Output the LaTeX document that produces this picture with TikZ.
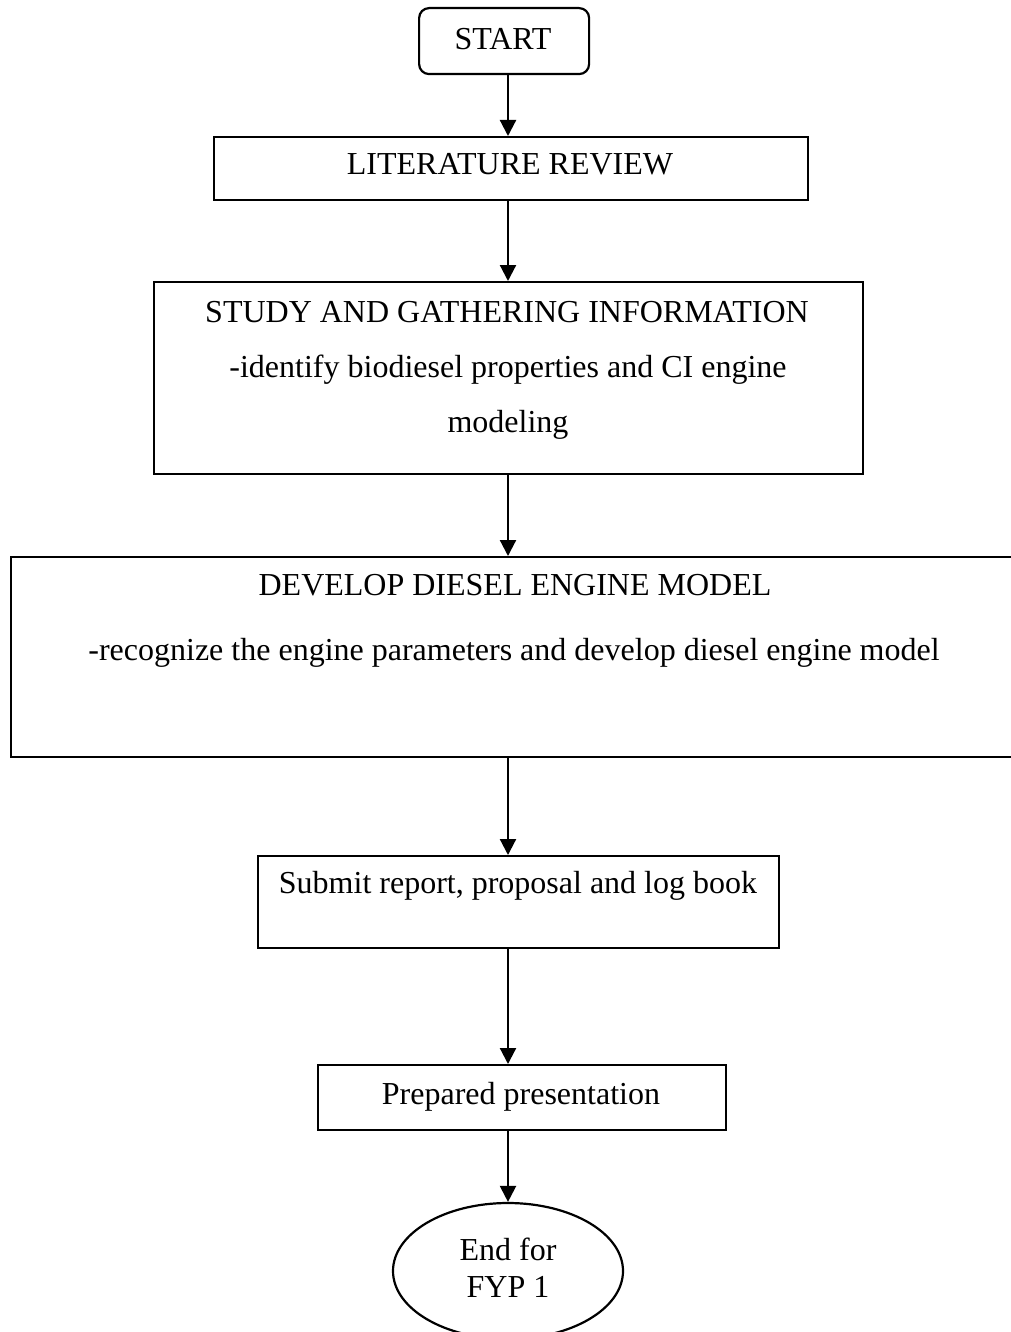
\documentclass[tikz,border=0pt]{standalone}
\usepackage{fontspec}
\setmainfont{Liberation Serif}
\usetikzlibrary{shapes.geometric,arrows.meta}
\begin{document}
\begin{tikzpicture}[x=1pt,y=-1pt,
  line width=2.2pt,
  boxnode/.style={draw, rectangle, inner sep=0pt, anchor=north west},
  txt/.style={font=\fontsize{32}{38}\selectfont, inner sep=0pt, anchor=base},
  flow/.style={-{Triangle[length=16pt,width=16pt]}, line width=2.2pt}]
\useasboundingbox (0,0) rectangle (1011,1332);
\clip (0,0) rectangle (1011,1332);
% boxes
\node[boxnode, rounded corners=10pt, minimum width=170pt, minimum height=66pt] (start) at (418,7) {};
\node[boxnode, minimum width=594pt, minimum height=63pt] (lit) at (213,136) {};
\node[boxnode, minimum width=709pt, minimum height=192pt] (study) at (153,281) {};
\node[boxnode, minimum width=1020pt, minimum height=200pt] (dev) at (10,556) {};
\node[boxnode, minimum width=521pt, minimum height=92pt] (sub) at (257,855) {};
\node[boxnode, minimum width=408pt, minimum height=65pt] (prep) at (317,1064) {};
\node[draw, ellipse, inner sep=0pt, minimum width=230pt, minimum height=136pt] (end) at (508,1271) {};
% texts
\node[txt] (tstart) at (503,50) {START};
\node[txt] (tlit) at (510,175) {LITERATURE REVIEW};
\node[txt] (tstudy1) at (507,322) {STUDY AND GATHERING INFORMATION};
\node[txt] (tstudy2) at (508,377) {-identify biodiesel properties and CI engine};
\node[txt] (tstudy3) at (508,432) {modeling};
\node[txt] (tdev1) at (515,595) {DEVELOP DIESEL ENGINE MODEL};
\node[txt] (tdev2) at (514,660) {-recognize the engine parameters and develop diesel engine model};
\node[txt] (tsub) at (518,893) {Submit report, proposal and log book};
\node[txt] (tprep) at (521,1104) {Prepared presentation};
\node[txt] (tend1) at (508,1260) {End for};
\node[txt] (tend2) at (508,1297) {FYP 1};
% connectors
\draw[flow] (start.south -| end.center) -- (lit.north -| end.center);
\draw[flow] (lit.south -| end.center) -- (study.north -| end.center);
\draw[flow] (study.south -| end.center) -- (dev.north -| end.center);
\draw[flow] (dev.south -| end.center) -- (sub.north -| end.center);
\draw[flow] (sub.south -| end.center) -- (prep.north -| end.center);
\draw[flow] (prep.south -| end.center) -- (end.north);
\end{tikzpicture}
\end{document}
